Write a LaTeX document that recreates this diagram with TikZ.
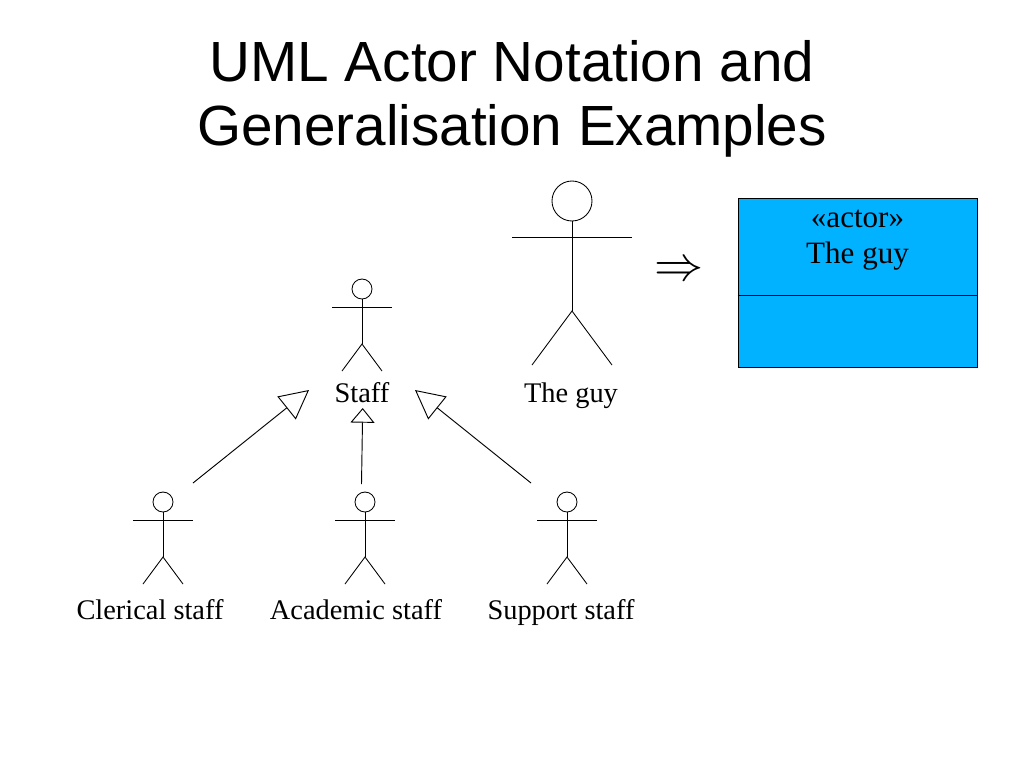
\documentclass[tikz,border=0pt]{standalone}
\usepackage{fontspec}
\usepackage{amssymb}
\setmainfont{Liberation Serif}
\newfontfamily\titlefont{Liberation Sans}
\usetikzlibrary{arrows.meta}
\definecolor{boxBlue}{RGB}{0,178,255}
\tikzset{
  limb/.style={line width=0.65pt},
  actorLabel/.style={font=\fontsize{21.3}{25}\selectfont,inner sep=0pt,anchor=base},
  bigGen/.style={line width=0.7pt,-{Triangle[open,length=21.6pt,width=22pt]}},
  smallGen/.style={line width=0.7pt,-{Triangle[open,length=11pt,width=18pt]}}
}
% #1 name, #2 x, #3 y of head, #4 size factor, #5 label position, #6 text
\newcommand{\actor}[6]{
  \node[draw,circle,limb,minimum size=#4*20*0.75pt,inner sep=0pt] (#1Head) at (#2,#3) {};
  \coordinate (#1Hip) at (#2,#3+#4*55);
  \draw[limb] (#1Head) -- (#1Hip);
  \draw[limb] (#2-#4*30,#3+#4*18) -- (#2+#4*30,#3+#4*18);
  \draw[limb] (#2-#4*20,#3+#4*82) -- (#1Hip) -- (#2+#4*20,#3+#4*82);
  \node[actorLabel] (#1) at #5 {#6};
}

\begin{document}
\begin{tikzpicture}[x=0.75pt,y=-0.75pt]
  \useasboundingbox (0,0) rectangle (1024,768);
  \node[font=\titlefont\fontsize{42.5}{48}\selectfont,align=center,inner sep=0pt] (title) at (512,99)
    {UML Actor Notation and\\Generalisation Examples};

  \actor{staff}{362}{289}{1}{(362,402)}{Staff}
  \actor{guy}{572}{201}{2}{(571,402)}{The guy}
  \actor{clerical}{163}{502}{1}{(150,619)}{Clerical staff}
  \actor{academic}{365}{502}{1}{(356,619)}{Academic staff}
  \actor{support}{567}{502}{1}{(561,619)}{Support staff}

  % free ends of the generalisations
  \coordinate (leftTail) at (193,483);
  \coordinate (leftTip) at (309,390);
  \coordinate (midTail) at (361.5,484);
  \coordinate (midTip) at (362.7,408);
  \coordinate (rightTail) at (531,483);
  \coordinate (rightTip) at (415,390);
  \draw[bigGen] (leftTail) -- (leftTip);
  \draw[smallGen] (midTail) -- (midTip);
  \draw[bigGen] (rightTail) -- (rightTip);

  \node[font=\fontsize{30}{30}\selectfont,inner sep=0pt,scale=1.48,transform shape] (implies) at (679,271) {$\Rightarrow$};

  \node[draw,fill=boxBlue,minimum width=239*0.75pt,minimum height=169*0.75pt,line width=0.7pt] (box) at (857.5,283) {};
  \draw[line width=0.7pt] (box.west |- 0,295) coordinate (split) -- (box.east |- 0,295);
  \node[font=\fontsize{23.3}{27}\selectfont,inner sep=0pt,align=center,anchor=base] (boxText) at (857.5,263) {«actor»\\The guy};
\end{tikzpicture}
\end{document}
